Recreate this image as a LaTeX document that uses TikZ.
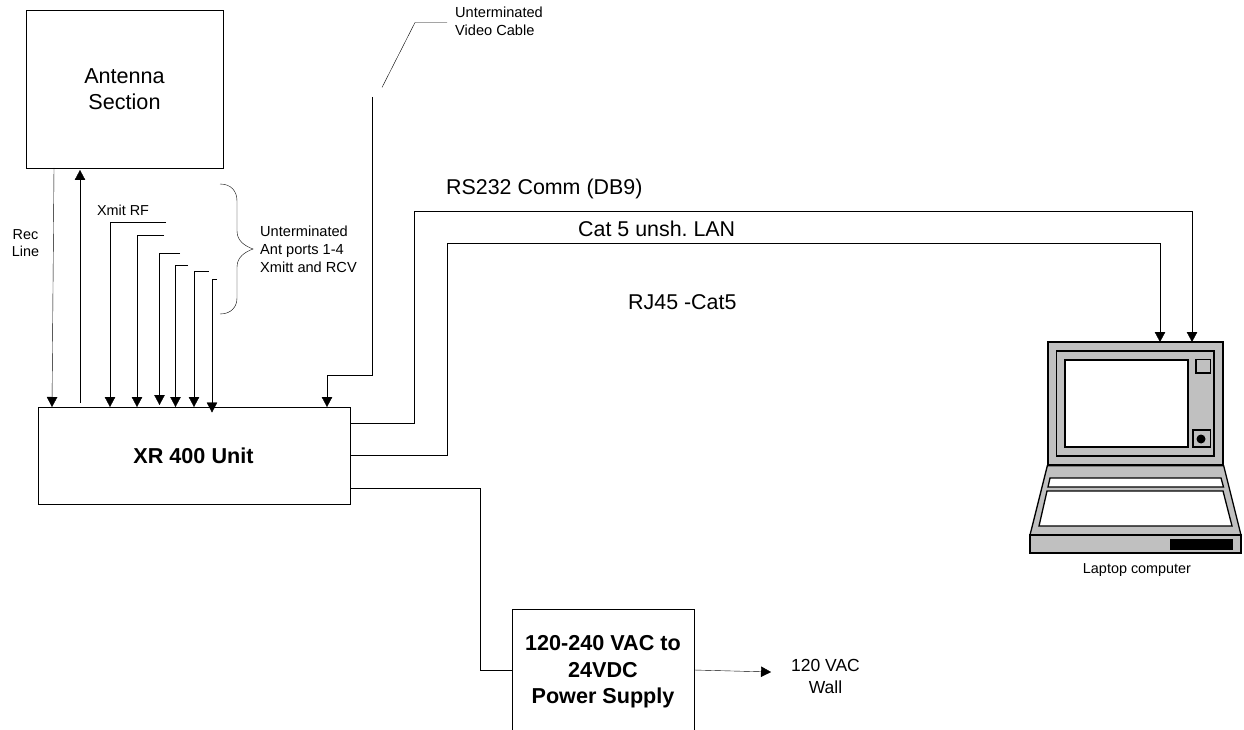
\documentclass[tikz,border=0pt]{standalone}
\usepackage{fontspec}
\setmainfont{Liberation Sans}
\frenchspacing
\usetikzlibrary{arrows.meta,calc}
\definecolor{lapgray}{HTML}{C0C0C0}
\tikzset{
  x=1pt,y=-1pt,
  line width=1pt,
  block/.style={draw,inner sep=0pt,align=center,font=\fontsize{21.6}{26}\selectfont},
  big/.style={inner sep=0pt,align=center,font=\fontsize{21.4}{26}\selectfont},
  small/.style={inner sep=0pt,align=center,font=\fontsize{14.4}{17.3}\selectfont},
  smallleft/.style={inner sep=0pt,align=left,font=\fontsize{14.6}{17.8}\selectfont},
  arr/.style={draw,-{Triangle[width=10.5pt,length=10pt]}},
  lapfill/.style={draw,line width=1.3pt,fill=lapgray,line join=miter},
  lapwhite/.style={draw,line width=1.3pt,fill=white,line join=miter},
}
\begin{document}
\begin{tikzpicture}
\useasboundingbox (0,0) rectangle (1244,730);
\fill[white] (0,0) rectangle (1244,730);
% blocks
\node[block,minimum width=197pt,minimum height=158pt] (ant) at (124.5,89) {Antenna\\Section};
\node[block,minimum width=312pt,minimum height=97pt,font=\fontsize{21.6}{26}\selectfont\bfseries] (xr) at (194,455.5) {\hspace*{-1pt}XR 400 Unit};
\node[inner sep=0pt,minimum width=182pt,minimum height=121pt,align=center,font=\fontsize{21.6}{26.5}\selectfont\bfseries] (psu) at (603,669.5) {\rule{0pt}{20pt}120-240 VAC to\\24VDC\\Power Supply};
\draw (psu.south west) |- (psu.north east) -- (psu.south east);
% laptop
\node[lapfill,inner sep=0pt,minimum width=175pt,minimum height=123pt] (lid) at (1135.5,403.5) {};
\draw[lapfill] (lid.south west) -- (lid.south east) -- (1241,535) -- (1030,535) -- cycle;
\draw[lapfill] (1030,535) rectangle (1241,553);
\draw[lapfill] (1056.5,351) rectangle (1214,456);
\draw[lapwhite] (1065,360) rectangle (1188,447);
\draw[lapfill] (1196,359.5) rectangle (1210.5,373);
\draw[lapfill] (1193,430) rectangle (1210.5,447);
\fill (1201,439) circle (4.5);
\draw[lapwhite] (1050,478) -- (1221,478) -- (1223.5,487) -- (1048,487) -- cycle;
\draw[lapwhite] (1047,491) -- (1223,491) -- (1232,526) -- (1039,526) -- cycle;
\fill (1170,539) rectangle (1232.5,549.5);
% free ends
\coordinate (recA) at (54,168);
\coordinate (recB) at (52,407);
\coordinate (upA) at (80,403);
\coordinate (upB) at (80,170);
\coordinate (p1) at (166,222.5);
\coordinate (p2) at (164,235);
\coordinate (p3) at (180,253);
\coordinate (p4) at (188,265);
\coordinate (p5) at (208.5,271.5);
\coordinate (p6) at (217,279);
\coordinate (vid) at (372,97);
\coordinate (rs) at (1192,342);
\coordinate (lan) at (1160,342);
\coordinate (wall) at (771,672);
\coordinate (rsO) at (350,423);
\coordinate (lanO) at (350,455);
\coordinate (pwrO) at (350,488);
% connectors
\draw[arr] (recA) -- (recB);
\draw[arr] (upA) -- (upB);
\draw[arr] (p1) -- (110,222.5) -- (110,407);
\draw[arr] (p2) -- (137,235) -- (137,407);
\draw[arr] (p3) -- (159.5,253) -- (159.5,405);
\draw[arr] (p4) -- (175.5,265) -- (175.5,407);
\draw[arr] (p5) -- (194,271.5) -- (194,407);
\draw[arr] (p6) -- (212,279) -- (212,412.5);
\draw[arr] (vid) -- (372,375) -- (327,375) -- (327,407);
\draw[arr] (rsO) -- (414,423) -- (414,211) -- (1192,211) -- (rs);
\draw[arr] (lanO) -- (447,455) -- (447,243) -- (1160,243) -- (lan);
\draw (pwrO) -- (480,488) -- (480,670) -- (512,670);
\draw[arr] (694,670) -- (wall);
% leader
\draw (382,87.5) -- (415,22.5) -- (447,22.5);
% brace
\draw (220,184) .. controls (231,184) and (237,191) .. (237,201) -- (237,231)
  .. controls (237,241) and (245,246) .. (253,249)
  .. controls (245,252) and (237,257) .. (237,267) -- (237,298)
  .. controls (237,307) and (231,314) .. (220,314);
% labels
\node[small] (lrec) at (25.5,243) {Rec\\Line};
\node[small] (lxmit) at (123,210) {Xmit RF};
\node[smallleft,anchor=west] (lport) at (260,249) {Unterminated\\Ant ports 1-4\\Xmitt and RCV};
\node[smallleft,anchor=west] (lvid) at (455,21.5) {Unterminated\\Video Cable};
\node[big,anchor=west] (lrs) at (446,188.5) {RS232 Comm (DB9)};
\node[big,anchor=west] (lcat) at (578,228.5) {Cat 5 unsh. LAN};
\node[big,anchor=west] (lrj) at (628,302.5) {RJ45 -Cat5};
\node[inner sep=0pt,align=center,font=\fontsize{17.5}{22}\selectfont] (lwall) at (825.5,676) {120 VAC\\Wall};
\node[small] (llap) at (1137,570) {Laptop computer};
\end{tikzpicture}
\end{document}
